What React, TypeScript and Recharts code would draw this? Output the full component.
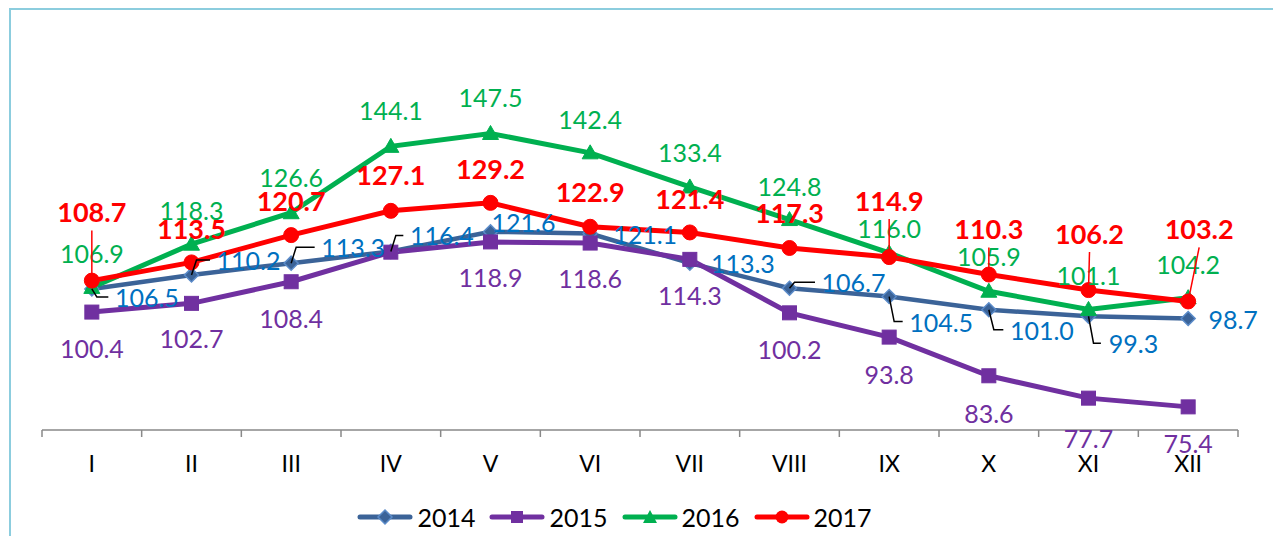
import React from 'react';
import { LineChart, Line, XAxis, YAxis } from 'recharts';

// ---- data ----
const months = ['I', 'II', 'III', 'IV', 'V', 'VI', 'VII', 'VIII', 'IX', 'X', 'XI', 'XII'];
const s2014 = [106.5, 110.2, 113.3, 116.4, 121.6, 121.1, 113.3, 106.7, 104.5, 101.0, 99.3, 98.7];
const s2015 = [100.4, 102.7, 108.4, 116.2, 118.9, 118.6, 114.3, 100.2, 93.8, 83.6, 77.7, 75.4];
const s2016 = [106.9, 118.3, 126.6, 144.1, 147.5, 142.4, 133.4, 124.8, 116.0, 105.9, 101.1, 104.2];
const s2017 = [108.7, 113.5, 120.7, 127.1, 129.2, 122.9, 121.4, 117.3, 114.9, 110.3, 106.2, 103.2];
const seriesNames = ['2014', '2015', '2016', '2017'];
const hidden2015Labels = [3];

// ---- label placement (layout, not data) ----
const blueDx = [55, 57, 62, 51, 33, 55, 53, 64, 52, 53, 45, 45];
const blueDy = [8, -15, -16, -16, -10, 0, 0, -6, 25, 20, 27, 0];
const blueLeader = [0, 1, 2, 3, 7, 8, 9, 10];
const purpleDy = [36, 35, 36, 36, 35, 35, 36, 36, 37, 37, 40, 36];
const greenDy = [-34, -34, -36, -36, -36, -34, -35, -34, -25, -35, -34, -34];
const redDx = [0, 0, 0, 0, 0, 0, 0, 0, 0, 0, 1, 11];
const redDy = [-69, -34, -35, -36, -34, -35, -34, -35, -57, -46, -57, -73];
const redLeader = [0, 8, 9, 10, 11];

const data = months.map((m, i) => ({
  m,
  y2014: s2014[i],
  y2015: s2015[i],
  y2016: s2016[i],
  y2017: s2017[i],
}));

const W = 1273;
const H = 536;
const M = { top: 124, right: 35, bottom: 76, left: 42 };
const XH = 30;
const BAND = (W - M.left - M.right) / months.length;
const FONT = 'Lato, "Noto Sans", sans-serif';
const LABEL_SIZE = 25;

const C2014 = '#3B6398';
const C2014b = '#5B8BC9';
const L2014 = '#0070C0';
const C2015 = '#7030A0';
const C2016 = '#00B050';
const C2017 = '#FF0000';

const fmt = (v: number) => Number(v).toFixed(1);
const textW = (s: string) => s.length * 11.8;

const Tick = (p: any) => {
  const { x, y, payload, index } = p;
  return (
    <g>
      <line x1={x - BAND / 2} x2={x - BAND / 2} y1={y} y2={y + 7} stroke="#898989" strokeWidth={1.5} />
      {index === months.length - 1 && (
        <line x1={x + BAND / 2} x2={x + BAND / 2} y1={y} y2={y + 7} stroke="#898989" strokeWidth={1.5} />
      )}
      <text x={x} y={y + 33} textAnchor="middle" dominantBaseline="central" fontFamily={FONT} fontSize={23} fill="#000">
        {payload.value}
      </text>
    </g>
  );
};

const blueLabel = (p: any) => {
  const { x, y, index, value } = p;
  const s = fmt(value);
  const lx = x + blueDx[index];
  const ly = y + blueDy[index];
  const left = lx - textW(s) / 2;
  return (
    <g key={`bl-${index}`}>
      {blueLeader.includes(index) && (
        <path d={`M${x},${y} L${x + 5},${ly} L${left - 9},${ly}`} fill="none" stroke="#000" strokeWidth={1.5} />
      )}
      <text x={lx} y={ly} textAnchor="middle" dominantBaseline="central" fontFamily={FONT} fontSize={LABEL_SIZE} fill={L2014}>
        {s}
      </text>
    </g>
  );
};

const purpleLabel = (p: any) => {
  const { x, y, index, value } = p;
  if (hidden2015Labels.includes(index)) return <g key={`pl-${index}`} />;
  return (
    <text key={`pl-${index}`} x={x} y={y + purpleDy[index]} textAnchor="middle" dominantBaseline="central" fontFamily={FONT} fontSize={LABEL_SIZE} fill={C2015}>
      {fmt(value)}
    </text>
  );
};

const greenLabel = (p: any) => {
  const { x, y, index, value } = p;
  return (
    <text key={`gl-${index}`} x={x} y={y + greenDy[index]} textAnchor="middle" dominantBaseline="central" fontFamily={FONT} fontSize={LABEL_SIZE} fill={C2016}>
      {fmt(value)}
    </text>
  );
};

const redLabel = (p: any) => {
  const { x, y, index, value } = p;
  const lx = x + redDx[index];
  const ly = y + redDy[index];
  return (
    <g key={`rl-${index}`}>
      {redLeader.includes(index) && (
        <line x1={lx} y1={ly + 19} x2={x} y2={y} stroke={C2017} strokeWidth={1.5} />
      )}
      <text x={lx} y={ly} textAnchor="middle" dominantBaseline="central" fontFamily={FONT} fontSize={27} fontWeight={700} fill={C2017}>
        {fmt(value)}
      </text>
    </g>
  );
};

const Diamond = (p: any) => {
  const { cx, cy, index } = p;
  if (cx == null || cy == null) return <g key={`dd-${index}`} />;
  return (
    <path key={`dd-${index}`} d={`M${cx},${cy - 7} L${cx + 7},${cy} L${cx},${cy + 7} L${cx - 7},${cy} Z`} fill={C2014} stroke={C2014b} strokeWidth={1.5} />
  );
};
const Square = (p: any) => {
  const { cx, cy, index } = p;
  if (cx == null || cy == null) return <g key={`sq-${index}`} />;
  return <rect key={`sq-${index}`} x={cx - 7} y={cy - 7} width={14} height={14} fill={C2015} stroke={C2015} strokeWidth={1} />;
};
const Triangle = (p: any) => {
  const { cx, cy, index } = p;
  if (cx == null || cy == null) return <g key={`tr-${index}`} />;
  return (
    <path key={`tr-${index}`} d={`M${cx},${cy - 8} L${cx + 8},${cy + 6} L${cx - 8},${cy + 6} Z`} fill={C2016} stroke={C2016} strokeWidth={1} />
  );
};
const Circle = (p: any) => {
  const { cx, cy, index } = p;
  if (cx == null || cy == null) return <g key={`ci-${index}`} />;
  return <circle key={`ci-${index}`} cx={cx} cy={cy} r={7.5} fill={C2017} stroke={C2017} strokeWidth={1} />;
};

const legendItems = [
  { name: seriesNames[0], color: C2014, shape: 'diamond' },
  { name: seriesNames[1], color: C2015, shape: 'square' },
  { name: seriesNames[2], color: C2016, shape: 'triangle' },
  { name: seriesNames[3], color: C2017, shape: 'circle' },
];

const LegendSymbol = ({ color, shape }: { color: string; shape: string }) => (
  <svg width={56} height={20} style={{ display: 'block' }}>
    <line x1={3} x2={53} y1={10} y2={10} stroke={color} strokeWidth={5} strokeLinecap="round" />
    {shape === 'diamond' && <path d="M28,3 L35,10 L28,17 L21,10 Z" fill={C2014} stroke={C2014b} strokeWidth={1.5} />}
    {shape === 'square' && <rect x={22} y={4} width={12} height={12} fill={color} />}
    {shape === 'triangle' && <path d="M28,3 L35,16 L21,16 Z" fill={color} />}
    {shape === 'circle' && <circle cx={28} cy={10} r={6.5} fill={color} />}
  </svg>
);

export default function App() {
  return (
    <div style={{ position: 'absolute', left: 0, top: 0, width: W, height: H, overflow: 'hidden', background: '#fff', fontFamily: FONT }}>
      <div
        style={{
          position: 'absolute',
          left: 9,
          top: 8,
          width: W,
          height: H,
          borderLeft: '2px solid #8CCDDE',
          borderTop: '2px solid #8CCDDE',
        }}
      />
      <div style={{ position: 'absolute', left: 0, top: 0 }}>
        <LineChart width={W} height={H} data={data} margin={M}>
          <XAxis
            dataKey="m"
            scale="band"
            interval={0}
            height={XH}
            tickLine={false}
            tickSize={0}
            tickMargin={0}
            axisLine={{ stroke: '#898989', strokeWidth: 1.5 }}
            tick={<Tick />}
          />
          <YAxis hide type="number" domain={[69.3, 150]} allowDataOverflow />
          <Line dataKey="y2014" name={seriesNames[0]} stroke={C2014} strokeWidth={4.5} dot={<Diamond />} activeDot={false} isAnimationActive={false} />
          <Line dataKey="y2015" name={seriesNames[1]} stroke={C2015} strokeWidth={5} dot={<Square />} activeDot={false} isAnimationActive={false} />
          <Line dataKey="y2016" name={seriesNames[2]} stroke={C2016} strokeWidth={5} dot={<Triangle />} activeDot={false} isAnimationActive={false} />
          <Line dataKey="y2017" name={seriesNames[3]} stroke={C2017} strokeWidth={5} dot={<Circle />} activeDot={false} isAnimationActive={false} />
          <Line dataKey="y2014" stroke="none" dot={false} activeDot={false} legendType="none" isAnimationActive={false} label={blueLabel} />
          <Line dataKey="y2015" stroke="none" dot={false} activeDot={false} legendType="none" isAnimationActive={false} label={purpleLabel} />
          <Line dataKey="y2016" stroke="none" dot={false} activeDot={false} legendType="none" isAnimationActive={false} label={greenLabel} />
          <Line dataKey="y2017" stroke="none" dot={false} activeDot={false} legendType="none" isAnimationActive={false} label={redLabel} />
        </LineChart>
      </div>
      <div
        style={{
          position: 'absolute',
          left: -22,
          top: 502,
          width: W,
          display: 'flex',
          justifyContent: 'center',
          alignItems: 'center',
          gap: 14,
          fontSize: 25,
          color: '#000',
          fontFamily: FONT,
          lineHeight: '30px',
        }}
      >
        {legendItems.map((it) => (
          <div key={it.name} style={{ display: 'flex', alignItems: 'center', gap: 4 }}>
            <LegendSymbol color={it.color} shape={it.shape} />
            <span>{it.name}</span>
          </div>
        ))}
      </div>
    </div>
  );
}
